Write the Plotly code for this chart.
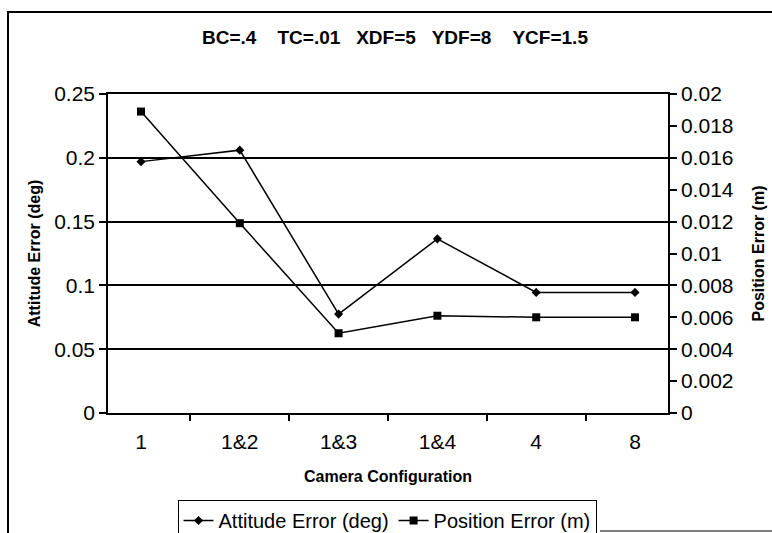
import plotly.graph_objects as go

categories = ["1", "1&2", "1&3", "1&4", "4", "8"]
attitude_error = [0.197, 0.206, 0.0775, 0.1365, 0.0945, 0.0945]
position_error = [0.0189, 0.0119, 0.0050, 0.0061, 0.0060, 0.0060]

title_text = "BC=.4\u00a0\u00a0\u00a0\u00a0TC=.01\u00a0\u00a0\u00a0XDF=5\u00a0\u00a0\u00a0YDF=8\u00a0\u00a0\u00a0\u00a0YCF=1.5"

FONT = "Liberation Sans, Arial, sans-serif"
W, H = 772, 533
L, R, T, B = 108, 104, 94, 120
PW, PH = W - L - R, H - T - B

def px2x(px):
    return (px - L) / PW

def py2y(py):
    return (H - B - py) / PH

fig = go.Figure()
fig.add_trace(go.Scatter(
    x=categories, y=attitude_error, name="Attitude Error (deg)",
    mode="lines+markers",
    line=dict(color="black", width=1.5),
    marker=dict(symbol="diamond", size=7, color="black"),
))
fig.add_trace(go.Scatter(
    x=categories, y=position_error, name="Position Error (m)",
    mode="lines+markers", yaxis="y2",
    line=dict(color="black", width=1.5),
    marker=dict(symbol="square", size=8, color="black"),
))

fig.update_layout(
    width=W, height=H,
    margin=dict(l=L, r=R, t=T, b=B, autoexpand=False),
    paper_bgcolor="white", plot_bgcolor="white",
    font=dict(family=FONT, color="black"),
    showlegend=True,
    legend=dict(
        orientation="h", x=px2x(387), xanchor="center",
        y=py2y(500), yanchor="top",
        bordercolor="black", borderwidth=1,
        font=dict(size=20, family=FONT),
        itemwidth=30, tracegroupgap=0,
    ),
    xaxis=dict(
        type="category", tickson="boundaries", automargin=False,
        ticks="outside", ticklen=6, tickcolor="black", tickwidth=1.5,
        ticklabelstandoff=9,
        showline=True, linecolor="black", linewidth=1.5, mirror=True,
        showgrid=False,
        tickfont=dict(size=21, family=FONT),
        title=dict(text="<b>Camera Configuration</b>", font=dict(size=16, family=FONT), standoff=19),
    ),
    yaxis=dict(
        range=[0, 0.25], dtick=0.05, automargin=False,
        ticks="outside", ticklen=7, tickcolor="black", tickwidth=1.5,
        showline=True, linecolor="black", linewidth=1.5,
        showgrid=True, gridcolor="black", gridwidth=1.5,
        zeroline=False,
        tickfont=dict(size=21, family=FONT),
        title=dict(text="<b>Attitude Error (deg)</b>", font=dict(size=16, family=FONT), standoff=10),
    ),
    yaxis2=dict(
        range=[0, 0.02], dtick=0.002, automargin=False,
        overlaying="y", side="right",
        ticks="outside", ticklen=7, tickcolor="black", tickwidth=1.5,
        showline=True, linecolor="black", linewidth=1.5,
        showgrid=False, zeroline=False,
        tickfont=dict(size=21, family=FONT),
        title=dict(text="<b>Position Error (m)</b>", font=dict(size=16, family=FONT), standoff=20),
    ),
    annotations=[dict(
        text="<b>" + title_text + "</b>", xref="paper", yref="paper",
        x=px2x(395), y=py2y(38), xanchor="center", yanchor="middle",
        showarrow=False, font=dict(size=19, family=FONT, color="black"),
    )],
    shapes=[
        dict(type="rect", xref="paper", yref="paper", x0=px2x(8), x1=px2x(790),
             y0=py2y(12), y1=py2y(560), line=dict(color="black", width=2),
             fillcolor="rgba(0,0,0,0)", layer="above"),
        dict(type="line", xref="paper", yref="paper", x0=px2x(600), x1=px2x(772),
             y0=py2y(531), y1=py2y(531), line=dict(color="black", width=1)),
    ],
)

fig.write_html(
    "out.html",
    config={"displayModeBar": False},
    post_script="document.body.style.margin='0';document.body.style.overflow='hidden';",
)
